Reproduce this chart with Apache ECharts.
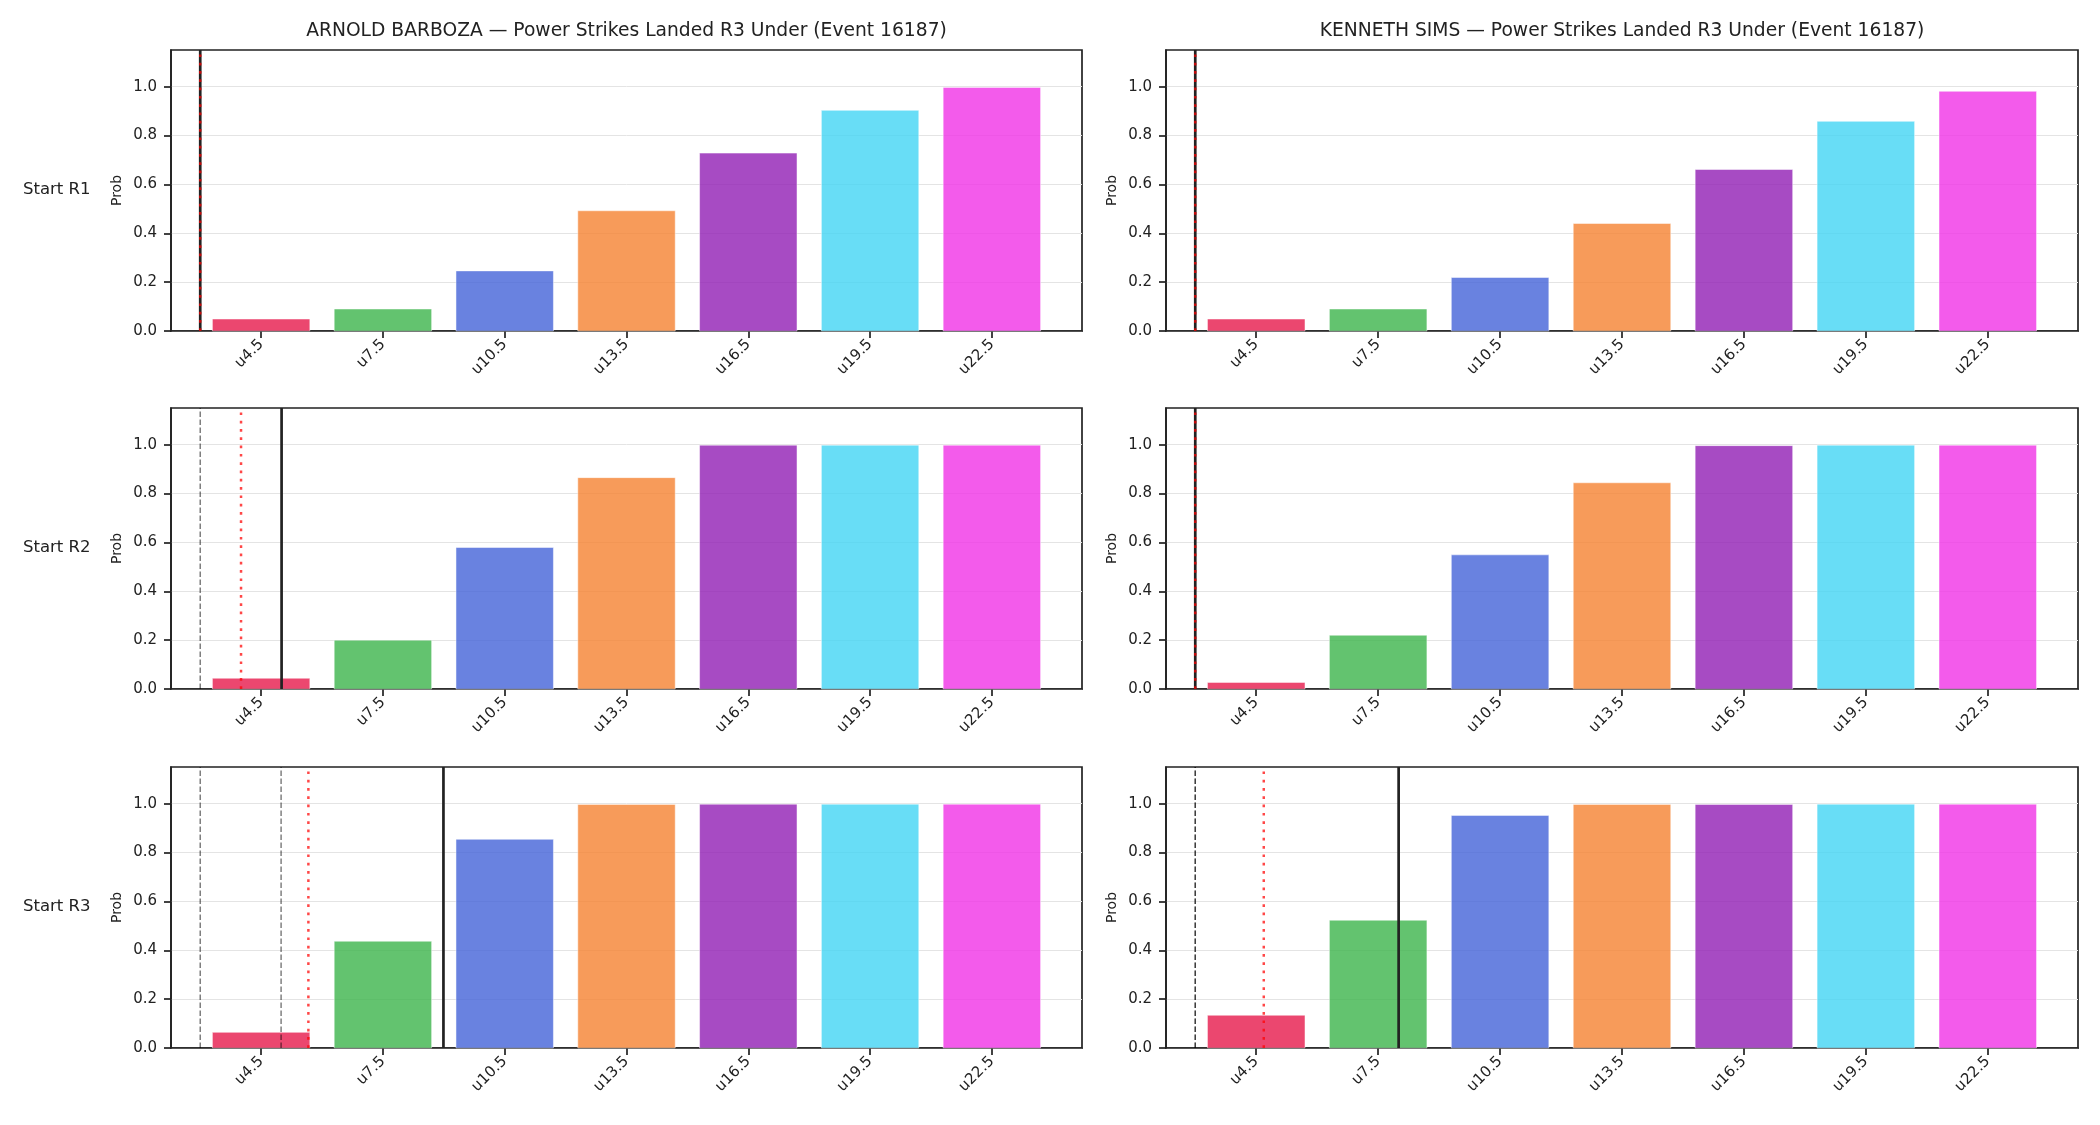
<!DOCTYPE html>
<html>
<head>
<meta charset="utf-8">
<script src="https://cdn.jsdelivr.net/npm/echarts@6/dist/echarts.min.js"></script>
<style>
  html, body { margin: 0; padding: 0; background: #fff; }
  #chart { width: 2100px; height: 1125px; }
</style>
</head>
<body>
<div id="chart"></div>
<script>
// ---------- data ----------
const categories = ['u4.5', 'u7.5', 'u10.5', 'u13.5', 'u16.5', 'u19.5', 'u22.5'];
const fighters = ['ARNOLD BARBOZA', 'KENNETH SIMS'];
const rowLabels = ['Start R1', 'Start R2', 'Start R3'];
const titleSuffix = ' — Power Strikes Landed R3 Under (Event 16187)';
const yTicks = [0, 0.2, 0.4, 0.6, 0.8, 1.0];

// probabilities per panel
const barbozaR1 = [0.049, 0.090, 0.246, 0.492, 0.728, 0.903, 0.997];
const barbozaR2 = [0.044, 0.200, 0.579, 0.865, 0.998, 0.998, 0.998];
const barbozaR3 = [0.064, 0.437, 0.854, 0.997, 0.998, 0.998, 0.998];
const simsR1 = [0.049, 0.090, 0.219, 0.440, 0.661, 0.858, 0.981];
const simsR2 = [0.027, 0.220, 0.549, 0.844, 0.996, 0.998, 0.998];
const simsR3 = [0.134, 0.523, 0.952, 0.997, 0.997, 0.998, 0.998];

// vertical reference lines, in category-index units
const barbozaR1Dashed = [];
const barbozaR1Dotted = [-0.5];
const barbozaR1Solid = [-0.5];
const barbozaR2Dashed = [-0.5];
const barbozaR2Dotted = [-0.165];
const barbozaR2Solid = [0.168];
const barbozaR3Dashed = [-0.5, 0.164];
const barbozaR3Dotted = [0.388];
const barbozaR3Solid = [1.497];
const simsR1Dashed = [];
const simsR1Dotted = [-0.5];
const simsR1Solid = [-0.5];
const simsR2Dashed = [];
const simsR2Dotted = [-0.5];
const simsR2Solid = [-0.5];
const simsR3Dashed = [-0.5, -0.5];
const simsR3Dotted = [0.062];
const simsR3Solid = [1.168];

// ---------- styling ----------
const barColors = [
  'rgba(230,25,75,0.8)', 'rgba(60,180,75,0.8)', 'rgba(67,99,216,0.8)',
  'rgba(245,130,49,0.8)', 'rgba(145,30,180,0.8)', 'rgba(66,212,244,0.8)',
  'rgba(240,50,230,0.8)'
];
const FONT = 'DejaVu Sans';
const INK = '#222222';
const X_MIN = -0.74, X_MAX = 6.74, Y_MAX = 1.15;
const colLeft = [171, 1166];
const colWidth = [911, 912];
const rowTop = [50, 408, 767];
const rowHeight = 281;

const panels = [
  [
    { bars: barbozaR1, dashed: barbozaR1Dashed, dotted: barbozaR1Dotted, solid: barbozaR1Solid },
    { bars: barbozaR2, dashed: barbozaR2Dashed, dotted: barbozaR2Dotted, solid: barbozaR2Solid },
    { bars: barbozaR3, dashed: barbozaR3Dashed, dotted: barbozaR3Dotted, solid: barbozaR3Solid }
  ],
  [
    { bars: simsR1, dashed: simsR1Dashed, dotted: simsR1Dotted, solid: simsR1Solid },
    { bars: simsR2, dashed: simsR2Dashed, dotted: simsR2Dotted, solid: simsR2Solid },
    { bars: simsR3, dashed: simsR3Dashed, dotted: simsR3Dotted, solid: simsR3Solid }
  ]
];

const option = {
  animation: false,
  backgroundColor: '#ffffff',
  grid: [], xAxis: [], yAxis: [], series: [], graphic: []
};

const catIdx = categories.map((_, i) => i);

for (let c = 0; c < 2; c++) {
  for (let r = 0; r < 3; r++) {
    const gi = option.grid.length;
    const p = panels[c][r];
    option.grid.push({
      left: colLeft[c], top: rowTop[r], width: colWidth[c], height: rowHeight,
      show: true, borderColor: INK, borderWidth: 1.7, backgroundColor: 'transparent'
    });
    option.xAxis.push({
      gridIndex: gi, type: 'value', min: X_MIN, max: X_MAX,
      axisLine: { show: true, onZero: false, lineStyle: { color: INK, width: 1.7 } },
      axisTick: { show: true, customValues: catIdx, length: 7, lineStyle: { color: INK, width: 1.7 } },
      axisLabel: {
        customValues: catIdx, rotate: 45, margin: 11,
        formatter: v => categories[Math.round(v)],
        fontFamily: FONT, fontSize: 15, color: INK
      },
      splitLine: { show: false }
    });
    option.yAxis.push({
      gridIndex: gi, type: 'value', min: 0, max: Y_MAX, interval: 0.2,
      name: 'Prob', nameLocation: 'middle', nameGap: 47,
      nameTextStyle: { fontFamily: FONT, fontSize: 14, color: INK },
      axisLine: { show: true, onZero: false, lineStyle: { color: INK, width: 1.7 } },
      axisTick: { show: true, customValues: yTicks, length: 7, lineStyle: { color: INK, width: 1.7 } },
      axisLabel: {
        customValues: yTicks, margin: 14,
        formatter: v => Number(v).toFixed(1),
        fontFamily: FONT, fontSize: 15, color: INK
      },
      splitLine: { show: true, lineStyle: { color: '#e4e4e4', width: 1 } }
    });
    // bars
    option.series.push({
      type: 'custom', xAxisIndex: gi, yAxisIndex: gi, z: 2, silent: true,
      data: p.bars.map((v, k) => [k, v]),
      encode: { x: 0, y: 1 },
      renderItem: (params, api) => {
        const k = api.value(0), v = api.value(1);
        const tl = api.coord([k - 0.4, v]);
        const br = api.coord([k + 0.4, 0]);
        return {
          type: 'rect',
          shape: { x: tl[0], y: tl[1], width: br[0] - tl[0], height: br[1] - tl[1] },
          style: { fill: barColors[params.dataIndex], stroke: 'rgba(255,255,255,0.8)', lineWidth: 0.6 }
        };
      }
    });
    // reference lines
    const addLine = (x, style, z) => {
      option.series.push({
        type: 'line', xAxisIndex: gi, yAxisIndex: gi, silent: true, z: z,
        symbol: 'none', data: [[x, 0], [x, Y_MAX]],
        lineStyle: style
      });
    };
    p.dashed.forEach(x => addLine(x, { color: 'rgba(0,0,0,0.5)', width: 1.5, type: [5.5, 2.5] }, 3));
    p.solid.forEach(x => addLine(x, { color: INK, width: 2.7, type: 'solid' }, 4));
    p.dotted.forEach(x => addLine(x, { color: 'rgba(255,0,0,0.72)', width: 2.5, type: [2.7, 5.6], cap: 'butt' }, 5));
  }
  // column title
  option.graphic.push({
    type: 'text', silent: true,
    style: {
      text: fighters[c] + titleSuffix,
      x: colLeft[c] + colWidth[c] / 2, y: 31,
      align: 'center', verticalAlign: 'middle',
      font: '18.7px "DejaVu Sans"', fill: INK
    }
  });
}
// row labels
for (let r = 0; r < 3; r++) {
  option.graphic.push({
    type: 'text', silent: true,
    style: {
      text: rowLabels[r],
      x: 23, y: rowTop[r] + rowHeight / 2 - 1,
      align: 'left', verticalAlign: 'middle',
      font: '16.5px "DejaVu Sans"', fill: INK
    }
  });
}

const chart = echarts.init(document.getElementById('chart'), null, { renderer: 'canvas' });
chart.setOption(option);
</script>
</body>
</html>
